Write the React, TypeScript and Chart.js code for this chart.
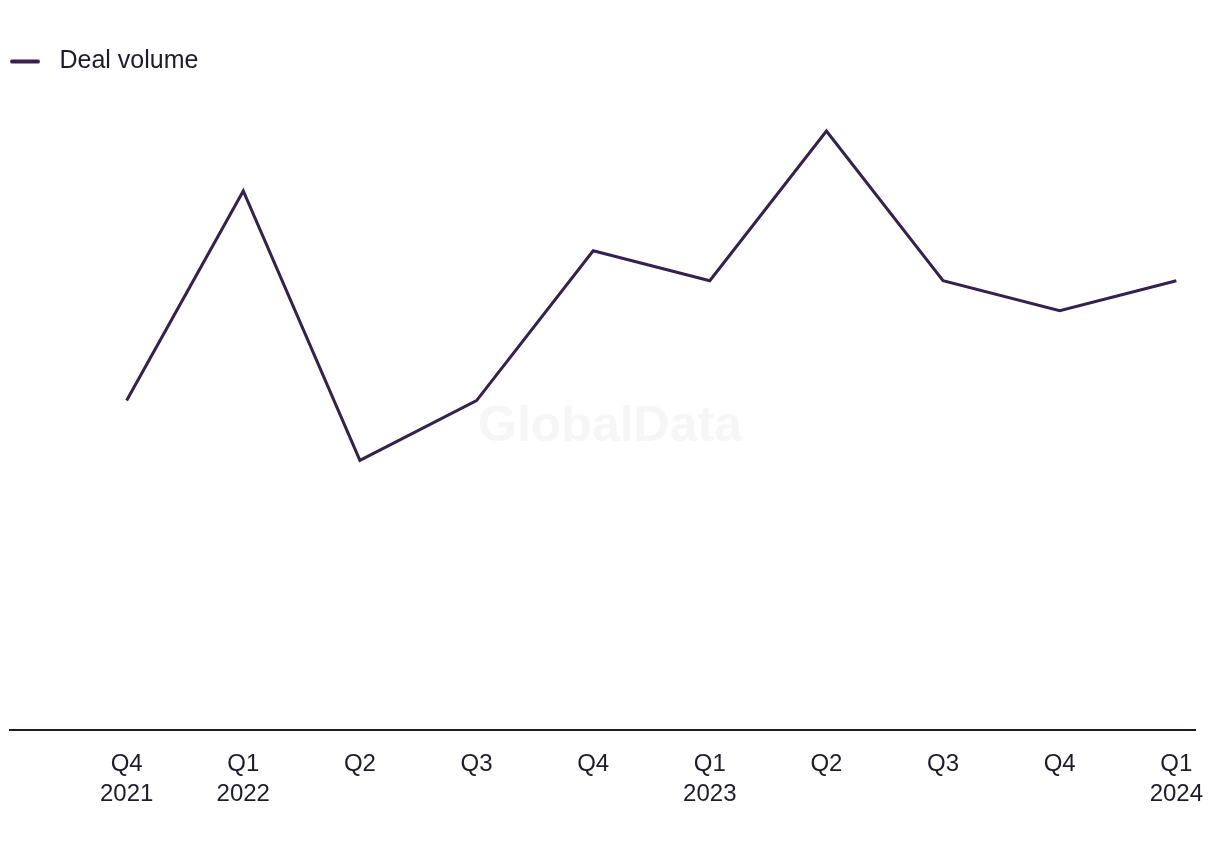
import React, { useEffect, useRef } from "react";
import { Chart, registerables } from "chart.js";

Chart.register(...registerables);

const quarters = ["Q4", "Q1", "Q2", "Q3", "Q4", "Q1", "Q2", "Q3", "Q4", "Q1"];
const years = ["2021", "2022", "", "", "", "2023", "", "", "", "2024"];
const dealVolume = [11, 18, 9, 11, 16, 15, 20, 15, 14, 15];
const seriesLabel = "Deal volume";
const watermark = "GlobalData";

const LINE_COLOR = "#35214f";
const TEXT_COLOR = "#1c1c2c";
const FONT = "'Liberation Sans', Arial, sans-serif";

export default function App() {
  const ref = useRef<HTMLCanvasElement | null>(null);

  useEffect(() => {
    if (!ref.current) return;

    const legendImg = document.createElement("canvas");
    legendImg.width = 37;
    legendImg.height = 6;
    const lctx = legendImg.getContext("2d")!;
    lctx.strokeStyle = LINE_COLOR;
    lctx.lineWidth = 4;
    lctx.lineCap = "round";
    lctx.beginPath();
    lctx.moveTo(2, 3);
    lctx.lineTo(28, 3);
    lctx.stroke();

    const watermarkPlugin = {
      id: "watermark",
      beforeDatasetsDraw(chart: any) {
        const { ctx } = chart;
        ctx.save();
        ctx.font = `bold 50px ${FONT}`;
        ctx.fillStyle = "#f6f6f6";
        ctx.textAlign = "center";
        ctx.textBaseline = "middle";
        ctx.fillText(watermark, chart.width / 2, chart.height / 2 + 2);
        ctx.restore();
      },
    };

    const chart = new Chart(ref.current, {
      type: "line",
      data: {
        datasets: [
          {
            label: seriesLabel,
            data: dealVolume.map((v, i) => ({ x: i, y: v })),
            borderColor: LINE_COLOR,
            backgroundColor: LINE_COLOR,
            borderWidth: 3,
            pointRadius: 0,
            pointHoverRadius: 0,
            tension: 0,
            fill: false,
          },
        ],
      },
      options: {
        animation: false,
        responsive: true,
        maintainAspectRatio: false,
        layout: { padding: { top: 41, left: 2, right: 17, bottom: 33 } },
        plugins: {
          tooltip: { enabled: false },
          legend: {
            display: true,
            position: "top",
            align: "start",
            labels: {
              usePointStyle: true,
              pointStyleWidth: 37,
              boxHeight: 4,
              padding: 0,
              color: TEXT_COLOR,
              font: { family: FONT, size: 25 },
              generateLabels: (c: any) =>
                Chart.defaults.plugins.legend.labels
                  .generateLabels(c)
                  .map((l: any) => ({ ...l, pointStyle: legendImg, lineWidth: 0 })),
            },
          },
        },
        scales: {
          x: {
            type: "linear",
            min: -1,
            max: 9.16,
            grid: { display: false, drawTicks: true, tickLength: 19 },
            border: { display: true, color: TEXT_COLOR, width: 2 },
            afterBuildTicks: (scale: any) => {
              scale.ticks = [-1, ...quarters.map((_, i) => i)].map((v) => ({ value: v }));
            },
            ticks: {
              autoSkip: false,
              maxRotation: 0,
              padding: 0,
              color: TEXT_COLOR,
              font: { family: FONT, size: 24, lineHeight: 1.25 },
              callback: (value: any) => {
                const i = Math.round(Number(value));
                if (i < 0 || i >= quarters.length) return "";
                return years[i] ? [quarters[i], years[i]] : quarters[i];
              },
            },
          },
          y: {
            display: false,
            min: 0,
            max: 21.57,
          },
        },
      },
      plugins: [watermarkPlugin],
    });

    return () => chart.destroy();
  }, []);

  return (
    <div style={{ width: 1204, height: 834, position: "relative" }}>
      <canvas ref={ref} />
    </div>
  );
}
